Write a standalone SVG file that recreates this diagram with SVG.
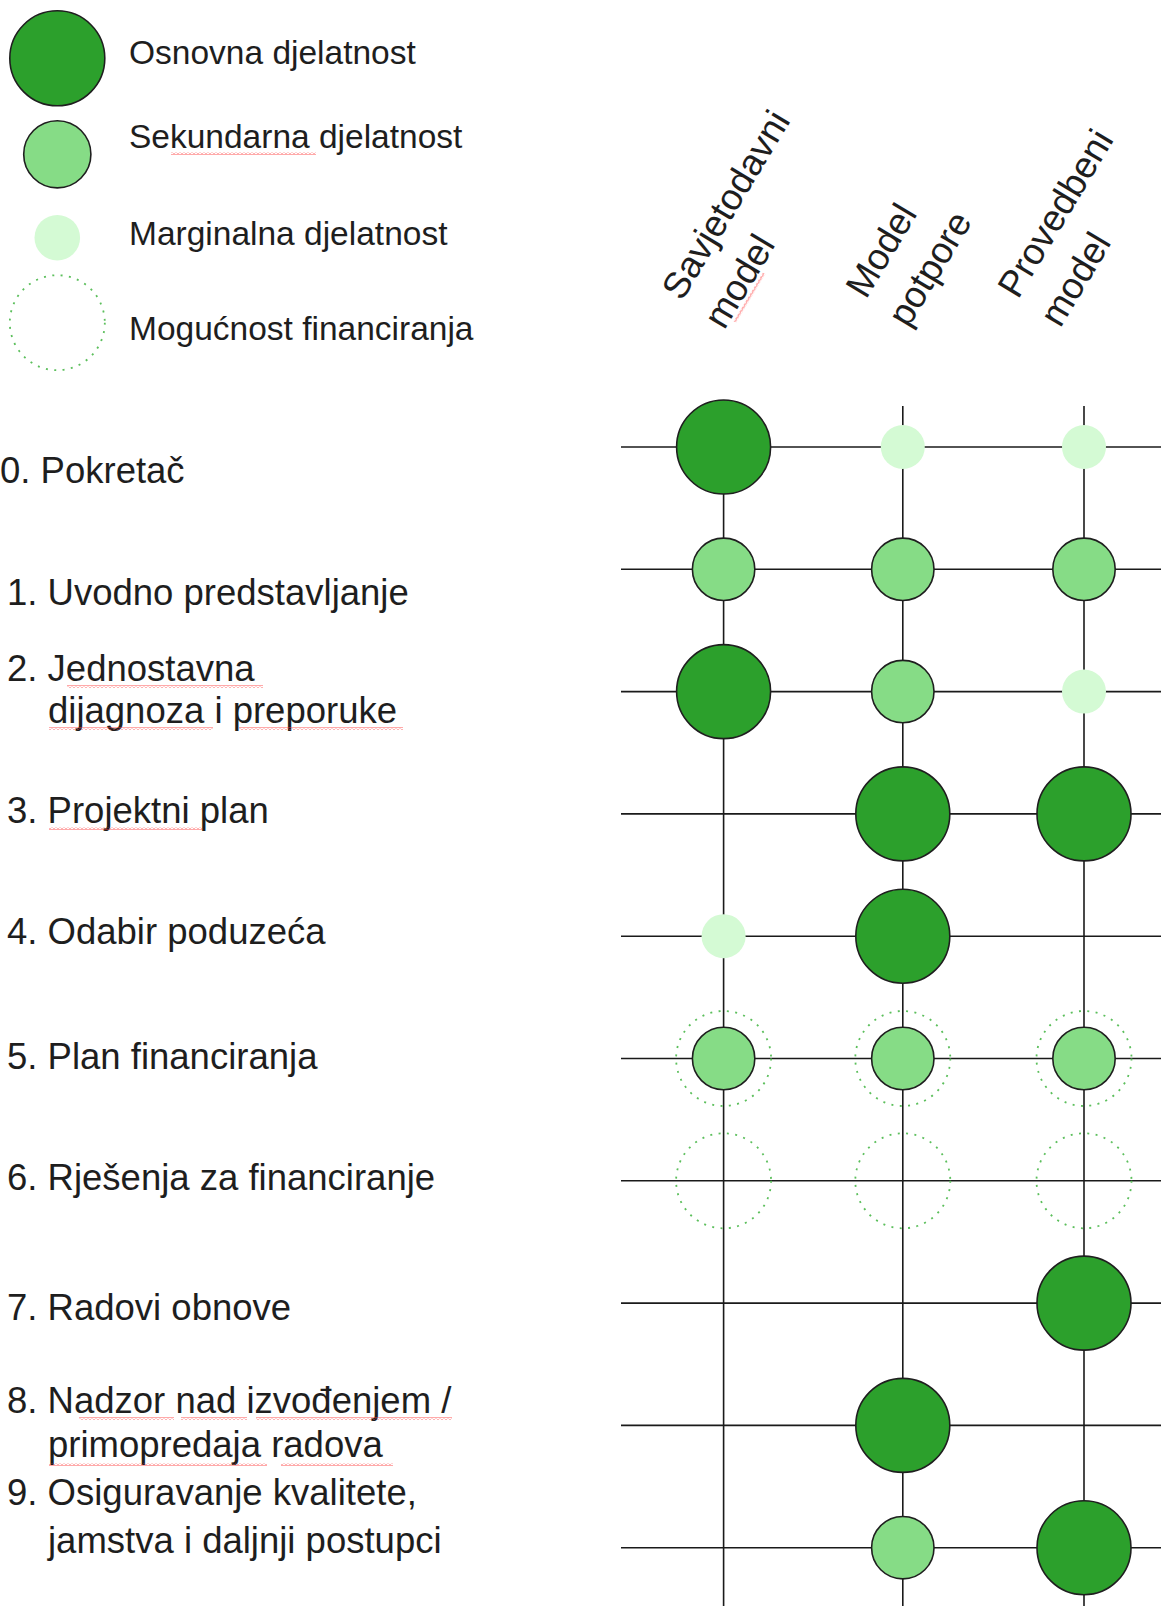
<svg xmlns="http://www.w3.org/2000/svg" width="1161" height="1606" viewBox="0 0 1161 1606">
<defs>
<style>
.t{font-family:"Liberation Sans",Arial,sans-serif;fill:#1e1e1e}
.lg{font-size:33.5px}
.lb{font-size:36.5px}
.hd{font-size:37px}
.ln{stroke:#1a1a1a;stroke-width:1.6;fill:none}
.big{fill:#2ca02c;stroke:#1f1f1f;stroke-width:1.6}
.med{fill:#86dc86;stroke:#1f1f1f;stroke-width:1.6}
.sml{fill:#d4fad4;stroke:none}
.dot{fill:none;stroke:#5cbf5c;stroke-width:1.8;stroke-dasharray:2 6.4}
.sq{fill:url(#sq)}
</style>
<pattern id="sq" width="4" height="3" patternUnits="userSpaceOnUse"><path d="M0 2.5 L2 0.5 L4 2.5" fill="none" stroke="#ff4040" stroke-width="0.9"/></pattern>
</defs>
<rect width="1161" height="1606" fill="#ffffff"/>

<g id="legend">
<circle class="big" cx="57.3" cy="58.3" r="47.5"/>
<circle class="med" cx="57.3" cy="154.3" r="33.6"/>
<circle class="sml" cx="57.3" cy="237.7" r="22.8"/>
<circle class="dot" cx="57.3" cy="322.7" r="47.5"/>
<text class="t lg" x="129" y="64">Osnovna djelatnost</text>
<text class="t lg" x="129" y="148">Sekundarna djelatnost</text>
<text class="t lg" x="129" y="245">Marginalna djelatnost</text>
<text class="t lg" x="129" y="340">Mogućnost financiranja</text>
<rect class="sq" x="171" y="152" width="145" height="3"/>
</g>

<g id="headers">
<g transform="translate(682,302) rotate(-59)">
<text class="t hd"><tspan x="0" y="0">Savjetodavni</tspan><tspan x="-3" y="51">model</tspan></text>
<rect class="sq" x="10" y="54" width="57" height="3"/>
</g>
<text class="t hd" transform="translate(866,300) rotate(-59)"><tspan x="0" y="0">Model</tspan><tspan x="-3" y="51">potpore</tspan></text>
<text class="t hd" transform="translate(1018,300) rotate(-59)"><tspan x="0" y="0">Provedbeni</tspan><tspan x="-3" y="51">model</tspan></text>
</g>

<g id="labels">
<text class="t lb" x="0" y="483">0. Pokretač</text>
<text class="t lb" x="7" y="605">1. Uvodno predstavljanje</text>
<text class="t lb" x="7" y="681">2. Jednostavna</text>
<text class="t lb" x="48" y="723">dijagnoza i preporuke</text>
<text class="t lb" x="7" y="823">3. Projektni plan</text>
<text class="t lb" x="7" y="944">4. Odabir poduzeća</text>
<text class="t lb" x="7" y="1069">5. Plan financiranja</text>
<text class="t lb" x="7" y="1190">6. Rješenja za financiranje</text>
<text class="t lb" x="7" y="1320">7. Radovi obnove</text>
<text class="t lb" x="7" y="1413">8. Nadzor nad izvođenjem /</text>
<text class="t lb" x="48" y="1457">primopredaja radova</text>
<text class="t lb" x="7" y="1505">9. Osiguravanje kvalitete,</text>
<text class="t lb" x="48" y="1553">jamstva i daljnji postupci</text>
<rect class="sq" x="67" y="685" width="196" height="3"/>
<rect class="sq" x="49" y="727" width="164" height="3"/>
<rect class="sq" x="239" y="727" width="164" height="3"/>
<rect class="sq" x="49" y="827" width="153" height="3"/>
<rect class="sq" x="79" y="1417" width="95" height="3"/>
<rect class="sq" x="181" y="1417" width="66" height="3"/>
<rect class="sq" x="256" y="1417" width="196" height="3"/>
<rect class="sq" x="49" y="1463" width="218" height="3"/>
<rect class="sq" x="281" y="1463" width="112" height="3"/>
</g>

<g id="connectors">
<line class="ln" x1="621" y1="447" x2="1161" y2="447"/>
<line class="ln" x1="621" y1="569.3" x2="1161" y2="569.3"/>
<line class="ln" x1="621" y1="691.6" x2="1161" y2="691.6"/>
<line class="ln" x1="621" y1="813.9" x2="1161" y2="813.9"/>
<line class="ln" x1="621" y1="936.2" x2="1161" y2="936.2"/>
<line class="ln" x1="621" y1="1058.5" x2="1161" y2="1058.5"/>
<line class="ln" x1="621" y1="1180.8" x2="1161" y2="1180.8"/>
<line class="ln" x1="621" y1="1303.1" x2="1161" y2="1303.1"/>
<line class="ln" x1="621" y1="1425.4" x2="1161" y2="1425.4"/>
<line class="ln" x1="621" y1="1547.7" x2="1161" y2="1547.7"/>
<line class="ln" x1="723.6" y1="406" x2="723.6" y2="1606"/>
<line class="ln" x1="902.8" y1="406" x2="902.8" y2="1606"/>
<line class="ln" x1="1084" y1="406" x2="1084" y2="1606"/>
</g>

<g id="node-r0">
<circle class="big" cx="723.6" cy="447" r="47"/>
<circle class="sml" cx="902.8" cy="447" r="22"/>
<circle class="sml" cx="1084" cy="447" r="22"/>
</g>
<g id="node-r1">
<circle class="med" cx="723.6" cy="569.3" r="31.2"/>
<circle class="med" cx="902.8" cy="569.3" r="31.2"/>
<circle class="med" cx="1084" cy="569.3" r="31.2"/>
</g>
<g id="node-r2">
<circle class="big" cx="723.6" cy="691.6" r="47"/>
<circle class="med" cx="902.8" cy="691.6" r="31.2"/>
<circle class="sml" cx="1084" cy="691.6" r="22"/>
</g>
<g id="node-r3">
<circle class="big" cx="902.8" cy="813.9" r="47"/>
<circle class="big" cx="1084" cy="813.9" r="47"/>
</g>
<g id="node-r4">
<circle class="sml" cx="723.6" cy="936.2" r="22"/>
<circle class="big" cx="902.8" cy="936.2" r="47"/>
</g>
<g id="node-r5">
<circle class="dot" cx="723.6" cy="1058.5" r="47.5"/>
<circle class="med" cx="723.6" cy="1058.5" r="31.2"/>
<circle class="dot" cx="902.8" cy="1058.5" r="47.5"/>
<circle class="med" cx="902.8" cy="1058.5" r="31.2"/>
<circle class="dot" cx="1084" cy="1058.5" r="47.5"/>
<circle class="med" cx="1084" cy="1058.5" r="31.2"/>
</g>
<g id="node-r6">
<circle class="dot" cx="723.6" cy="1180.8" r="47.5"/>
<circle class="dot" cx="902.8" cy="1180.8" r="47.5"/>
<circle class="dot" cx="1084" cy="1180.8" r="47.5"/>
</g>
<g id="node-r7">
<circle class="big" cx="1084" cy="1303.1" r="47"/>
</g>
<g id="node-r8">
<circle class="big" cx="902.8" cy="1425.4" r="47"/>
</g>
<g id="node-r9">
<circle class="med" cx="902.8" cy="1547.7" r="31.2"/>
<circle class="big" cx="1084" cy="1547.7" r="47"/>
</g>
</svg>
